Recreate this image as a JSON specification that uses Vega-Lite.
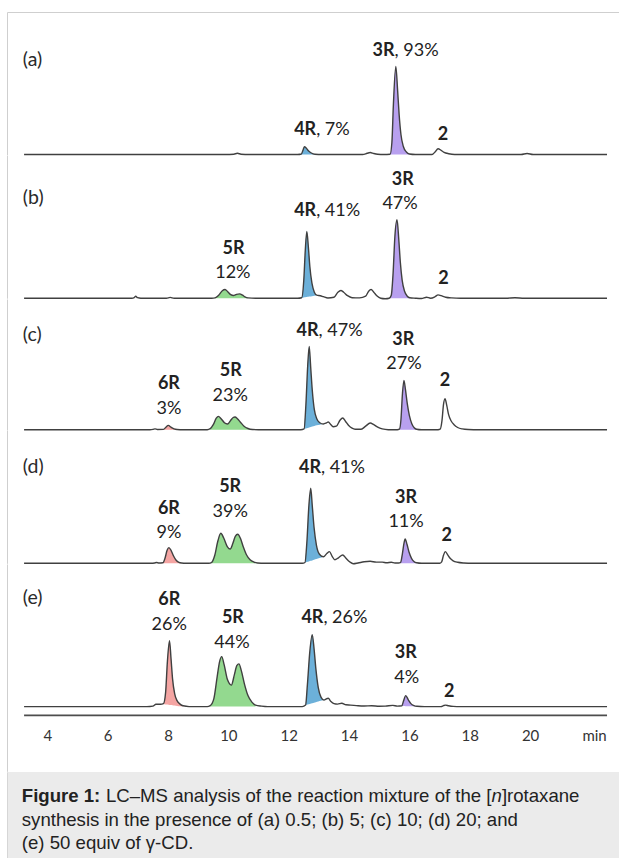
{
"$schema": "https://vega.github.io/schema/vega-lite/v6.json",
"padding": {"left": 7, "top": 12, "right": 0, "bottom": 0},
"background": "white",
"spacing": 0,
"bounds": "flush",
"config": {"view": {"stroke": null}, "axis": {"domainCap": "butt"}},
"resolve": {"scale": {"x": "independent", "y": "independent"}},
"datasets": {
"traces": [
{"panel":"a","t":3.23,"s":0},{"panel":"a","t":9.9,"s":0},{"panel":"a","t":10.18,"s":0.3},{"panel":"a","t":10.3,"s":1.2},{"panel":"a","t":10.42,"s":0.3},{"panel":"a","t":10.7,"s":0},{"panel":"a","t":12.3,"s":0},
{"panel":"a","t":12.42,"s":0.5,"peak":"4R","base":0},{"panel":"a","t":12.47,"s":4,"peak":"4R","base":0},{"panel":"a","t":12.52,"s":7.7,"peak":"4R","base":0},{"panel":"a","t":12.58,"s":6.5,"peak":"4R","base":0},{"panel":"a","t":12.66,"s":3.5,"peak":"4R","base":0},{"panel":"a","t":12.75,"s":1.5,"peak":"4R","base":0},{"panel":"a","t":12.87,"s":0.3,"peak":"4R","base":0},
{"panel":"a","t":13.1,"s":0},{"panel":"a","t":14.45,"s":0},{"panel":"a","t":14.6,"s":1.2},{"panel":"a","t":14.7,"s":2},{"panel":"a","t":14.82,"s":1},{"panel":"a","t":14.95,"s":0.3},{"panel":"a","t":15.15,"s":0},
{"panel":"a","t":15.36,"s":0.3,"peak":"3R","base":0},{"panel":"a","t":15.42,"s":12,"peak":"3R","base":0},{"panel":"a","t":15.47,"s":50,"peak":"3R","base":0},{"panel":"a","t":15.55,"s":88,"peak":"3R","base":0},{"panel":"a","t":15.61,"s":64,"peak":"3R","base":0},{"panel":"a","t":15.66,"s":40,"peak":"3R","base":0},{"panel":"a","t":15.72,"s":20,"peak":"3R","base":0},{"panel":"a","t":15.8,"s":8,"peak":"3R","base":0},{"panel":"a","t":15.9,"s":2.5,"peak":"3R","base":0},{"panel":"a","t":16.0,"s":0.5,"peak":"3R","base":0},
{"panel":"a","t":16.2,"s":0},{"panel":"a","t":16.75,"s":0},{"panel":"a","t":16.85,"s":2.5},{"panel":"a","t":16.95,"s":5.7},{"panel":"a","t":17.05,"s":4.2},{"panel":"a","t":17.15,"s":2.2},{"panel":"a","t":17.3,"s":0.8},{"panel":"a","t":17.5,"s":0},{"panel":"a","t":19.7,"s":0},{"panel":"a","t":19.9,"s":1},{"panel":"a","t":20.1,"s":0},{"panel":"a","t":22.55,"s":0},

{"panel":"b","t":3.23,"s":0},{"panel":"b","t":6.8,"s":0},{"panel":"b","t":6.88,"s":0.6},{"panel":"b","t":6.93,"s":2},{"panel":"b","t":6.99,"s":0.5},{"panel":"b","t":7.1,"s":0},{"panel":"b","t":7.95,"s":0},{"panel":"b","t":8.07,"s":0.8},{"panel":"b","t":8.2,"s":0},{"panel":"b","t":9.45,"s":0},
{"panel":"b","t":9.56,"s":0.3,"peak":"5R","base":0},{"panel":"b","t":9.68,"s":3,"peak":"5R","base":0},{"panel":"b","t":9.8,"s":7.5,"peak":"5R","base":0},{"panel":"b","t":9.89,"s":8.7,"peak":"5R","base":0},{"panel":"b","t":9.98,"s":6.5,"peak":"5R","base":0},{"panel":"b","t":10.08,"s":3.5,"peak":"5R","base":0},{"panel":"b","t":10.17,"s":2.7,"peak":"5R","base":0},{"panel":"b","t":10.27,"s":3.8,"peak":"5R","base":0},{"panel":"b","t":10.37,"s":4.3,"peak":"5R","base":0},{"panel":"b","t":10.47,"s":3,"peak":"5R","base":0},{"panel":"b","t":10.55,"s":1.3,"peak":"5R","base":0},{"panel":"b","t":10.65,"s":0.3,"peak":"5R","base":0},
{"panel":"b","t":10.9,"s":0},{"panel":"b","t":12.3,"s":0},
{"panel":"b","t":12.43,"s":0.5,"peak":"4R","base":0.5},{"panel":"b","t":12.5,"s":18,"peak":"4R","base":0.8},{"panel":"b","t":12.55,"s":48,"peak":"4R","base":1.0},{"panel":"b","t":12.6,"s":66.7,"peak":"4R","base":1.2},{"panel":"b","t":12.65,"s":52,"peak":"4R","base":1.4},{"panel":"b","t":12.7,"s":32,"peak":"4R","base":1.6},{"panel":"b","t":12.77,"s":15,"peak":"4R","base":2.0},{"panel":"b","t":12.85,"s":6,"peak":"4R","base":2.5},{"panel":"b","t":12.93,"s":3,"peak":"4R","base":3.0},
{"panel":"b","t":13.05,"s":2.5},{"panel":"b","t":13.15,"s":1.5},{"panel":"b","t":13.3,"s":0.2},{"panel":"b","t":13.5,"s":1},{"panel":"b","t":13.63,"s":6},{"panel":"b","t":13.73,"s":7.7},{"panel":"b","t":13.82,"s":6},{"panel":"b","t":13.95,"s":2.5},{"panel":"b","t":14.1,"s":0.5},{"panel":"b","t":14.35,"s":0.3},{"panel":"b","t":14.55,"s":2},{"panel":"b","t":14.65,"s":7},{"panel":"b","t":14.73,"s":8.7},{"panel":"b","t":14.82,"s":6},{"panel":"b","t":14.92,"s":2.5},{"panel":"b","t":15.05,"s":0},{"panel":"b","t":15.2,"s":-0.5},
{"panel":"b","t":15.33,"s":0,"peak":"3R","base":0},{"panel":"b","t":15.4,"s":3,"peak":"3R","base":0},{"panel":"b","t":15.46,"s":25,"peak":"3R","base":0},{"panel":"b","t":15.52,"s":62,"peak":"3R","base":0},{"panel":"b","t":15.59,"s":78.4,"peak":"3R","base":0},{"panel":"b","t":15.65,"s":58,"peak":"3R","base":0},{"panel":"b","t":15.7,"s":36,"peak":"3R","base":0},{"panel":"b","t":15.76,"s":18,"peak":"3R","base":0},{"panel":"b","t":15.84,"s":7,"peak":"3R","base":0},{"panel":"b","t":15.93,"s":2,"peak":"3R","base":0},{"panel":"b","t":16.01,"s":0.5,"peak":"3R","base":0},
{"panel":"b","t":16.2,"s":0},{"panel":"b","t":16.4,"s":-0.3},{"panel":"b","t":16.57,"s":1},{"panel":"b","t":16.7,"s":0},{"panel":"b","t":16.85,"s":1.5},{"panel":"b","t":16.95,"s":3.3},{"panel":"b","t":17.05,"s":2.5},{"panel":"b","t":17.2,"s":1},{"panel":"b","t":17.4,"s":0.3},{"panel":"b","t":17.7,"s":0},{"panel":"b","t":19.2,"s":0},{"panel":"b","t":19.5,"s":0.4},{"panel":"b","t":19.8,"s":0},{"panel":"b","t":22.55,"s":0},

{"panel":"c","t":3.23,"s":0},{"panel":"c","t":7.4,"s":0},{"panel":"c","t":7.5,"s":0.3},{"panel":"c","t":7.57,"s":0.8},{"panel":"c","t":7.65,"s":0.2},
{"panel":"c","t":7.85,"s":0.3,"peak":"6R","base":0},{"panel":"c","t":7.93,"s":2.5,"peak":"6R","base":0},{"panel":"c","t":8.01,"s":4.3,"peak":"6R","base":0},{"panel":"c","t":8.1,"s":2.5,"peak":"6R","base":0},{"panel":"c","t":8.2,"s":0.8,"peak":"6R","base":0},{"panel":"c","t":8.3,"s":0.2,"peak":"6R","base":0},
{"panel":"c","t":8.5,"s":0},{"panel":"c","t":9.3,"s":0},
{"panel":"c","t":9.4,"s":1,"peak":"5R","base":0},{"panel":"c","t":9.5,"s":5,"peak":"5R","base":0},{"panel":"c","t":9.6,"s":11.5,"peak":"5R","base":0},{"panel":"c","t":9.67,"s":13.3,"peak":"5R","base":0},{"panel":"c","t":9.76,"s":11,"peak":"5R","base":0},{"panel":"c","t":9.87,"s":7,"peak":"5R","base":0},{"panel":"c","t":9.97,"s":5.7,"peak":"5R","base":0},{"panel":"c","t":10.08,"s":9.5,"peak":"5R","base":0},{"panel":"c","t":10.16,"s":12.2,"peak":"5R","base":0},{"panel":"c","t":10.22,"s":12.7,"peak":"5R","base":0},{"panel":"c","t":10.3,"s":11,"peak":"5R","base":0},{"panel":"c","t":10.4,"s":7.5,"peak":"5R","base":0},{"panel":"c","t":10.52,"s":3.5,"peak":"5R","base":0},{"panel":"c","t":10.65,"s":1.2,"peak":"5R","base":0},{"panel":"c","t":10.8,"s":0.2,"peak":"5R","base":0},
{"panel":"c","t":11.0,"s":0},{"panel":"c","t":12.4,"s":0},
{"panel":"c","t":12.51,"s":0.8,"peak":"4R","base":0.8},{"panel":"c","t":12.57,"s":25,"peak":"4R","base":1.3},{"panel":"c","t":12.63,"s":64,"peak":"4R","base":1.8},{"panel":"c","t":12.68,"s":83.3,"peak":"4R","base":2.2},{"panel":"c","t":12.73,"s":62,"peak":"4R","base":2.7},{"panel":"c","t":12.78,"s":40,"peak":"4R","base":3.1},{"panel":"c","t":12.85,"s":20,"peak":"4R","base":3.7},{"panel":"c","t":12.93,"s":11,"peak":"4R","base":4.4},{"panel":"c","t":13.03,"s":7,"peak":"4R","base":5.0},{"panel":"c","t":13.15,"s":5.7,"peak":"4R","base":5.7},
{"panel":"c","t":13.25,"s":6.8},{"panel":"c","t":13.31,"s":7.7},{"panel":"c","t":13.4,"s":5},{"panel":"c","t":13.47,"s":3},{"panel":"c","t":13.58,"s":3.5},{"panel":"c","t":13.7,"s":9.5},{"panel":"c","t":13.79,"s":11.7},{"panel":"c","t":13.88,"s":8.5},{"panel":"c","t":13.98,"s":4.5},{"panel":"c","t":14.1,"s":1.5},{"panel":"c","t":14.2,"s":0.5},{"panel":"c","t":14.4,"s":0.5},{"panel":"c","t":14.55,"s":3.5},{"panel":"c","t":14.7,"s":6.7},{"panel":"c","t":14.82,"s":5},{"panel":"c","t":14.95,"s":2.5},{"panel":"c","t":15.1,"s":0.8},{"panel":"c","t":15.3,"s":0},{"panel":"c","t":15.6,"s":0},
{"panel":"c","t":15.67,"s":0.5,"peak":"3R","base":0},{"panel":"c","t":15.72,"s":10,"peak":"3R","base":0},{"panel":"c","t":15.77,"s":36,"peak":"3R","base":0},{"panel":"c","t":15.82,"s":49.3,"peak":"3R","base":0},{"panel":"c","t":15.87,"s":40,"peak":"3R","base":0},{"panel":"c","t":15.93,"s":26,"peak":"3R","base":0},{"panel":"c","t":16.0,"s":14,"peak":"3R","base":0},{"panel":"c","t":16.08,"s":6,"peak":"3R","base":0},{"panel":"c","t":16.16,"s":2,"peak":"3R","base":0},{"panel":"c","t":16.24,"s":0.5,"peak":"3R","base":0},
{"panel":"c","t":16.4,"s":0},{"panel":"c","t":16.95,"s":0},{"panel":"c","t":17.02,"s":0.5},{"panel":"c","t":17.08,"s":9},{"panel":"c","t":17.13,"s":25},{"panel":"c","t":17.18,"s":31},{"panel":"c","t":17.24,"s":24},{"panel":"c","t":17.3,"s":15},{"panel":"c","t":17.38,"s":9},{"panel":"c","t":17.48,"s":5},{"panel":"c","t":17.6,"s":2.2},{"panel":"c","t":17.75,"s":0.8},{"panel":"c","t":17.95,"s":0.2},{"panel":"c","t":18.3,"s":0},{"panel":"c","t":22.55,"s":0},

{"panel":"d","t":3.23,"s":0},{"panel":"d","t":7.45,"s":0},{"panel":"d","t":7.55,"s":0.3},{"panel":"d","t":7.62,"s":0.8},{"panel":"d","t":7.7,"s":0.3},
{"panel":"d","t":7.83,"s":0.5,"peak":"6R","base":0},{"panel":"d","t":7.9,"s":5,"peak":"6R","base":0},{"panel":"d","t":7.97,"s":13,"peak":"6R","base":0},{"panel":"d","t":8.03,"s":15.7,"peak":"6R","base":0},{"panel":"d","t":8.1,"s":13,"peak":"6R","base":0},{"panel":"d","t":8.18,"s":7.5,"peak":"6R","base":0},{"panel":"d","t":8.27,"s":3,"peak":"6R","base":0},{"panel":"d","t":8.36,"s":1,"peak":"6R","base":0},{"panel":"d","t":8.45,"s":0.3,"peak":"6R","base":0},
{"panel":"d","t":8.6,"s":0},{"panel":"d","t":9.35,"s":0},
{"panel":"d","t":9.45,"s":1,"peak":"5R","base":0},{"panel":"d","t":9.55,"s":8,"peak":"5R","base":0},{"panel":"d","t":9.65,"s":22,"peak":"5R","base":0},{"panel":"d","t":9.75,"s":30,"peak":"5R","base":0},{"panel":"d","t":9.85,"s":25,"peak":"5R","base":0},{"panel":"d","t":9.97,"s":16.5,"peak":"5R","base":0},{"panel":"d","t":10.06,"s":14.3,"peak":"5R","base":0},{"panel":"d","t":10.15,"s":20,"peak":"5R","base":0},{"panel":"d","t":10.23,"s":27,"peak":"5R","base":0},{"panel":"d","t":10.31,"s":29,"peak":"5R","base":0},{"panel":"d","t":10.4,"s":25,"peak":"5R","base":0},{"panel":"d","t":10.5,"s":16,"peak":"5R","base":0},{"panel":"d","t":10.6,"s":8.5,"peak":"5R","base":0},{"panel":"d","t":10.72,"s":3.5,"peak":"5R","base":0},{"panel":"d","t":10.85,"s":1.2,"peak":"5R","base":0},{"panel":"d","t":10.97,"s":0.3,"peak":"5R","base":0},
{"panel":"d","t":11.2,"s":0},{"panel":"d","t":12.45,"s":0},
{"panel":"d","t":12.54,"s":0.8,"peak":"4R","base":0.8},{"panel":"d","t":12.6,"s":20,"peak":"4R","base":1.3},{"panel":"d","t":12.67,"s":58,"peak":"4R","base":1.9},{"panel":"d","t":12.73,"s":75,"peak":"4R","base":2.5},{"panel":"d","t":12.78,"s":58,"peak":"4R","base":2.9},{"panel":"d","t":12.84,"s":36,"peak":"4R","base":3.5},{"panel":"d","t":12.92,"s":18,"peak":"4R","base":4.2},{"panel":"d","t":13.02,"s":9,"peak":"4R","base":5.2},{"panel":"d","t":13.15,"s":6.5,"peak":"4R","base":6.5},
{"panel":"d","t":13.27,"s":10},{"panel":"d","t":13.35,"s":11.7},{"panel":"d","t":13.44,"s":7},{"panel":"d","t":13.53,"s":3.5},{"panel":"d","t":13.65,"s":5.5},{"panel":"d","t":13.79,"s":8.3},{"panel":"d","t":13.9,"s":5},{"panel":"d","t":14.02,"s":1.5},{"panel":"d","t":14.14,"s":-0.5},{"panel":"d","t":14.3,"s":0.3},{"panel":"d","t":14.5,"s":1.5},{"panel":"d","t":14.7,"s":2},{"panel":"d","t":14.9,"s":1.2},{"panel":"d","t":15.1,"s":1.2},{"panel":"d","t":15.25,"s":0.5},{"panel":"d","t":15.4,"s":1},{"panel":"d","t":15.52,"s":0.3},{"panel":"d","t":15.64,"s":0.3},
{"panel":"d","t":15.71,"s":1,"peak":"3R","base":0},{"panel":"d","t":15.77,"s":10,"peak":"3R","base":0},{"panel":"d","t":15.82,"s":20,"peak":"3R","base":0},{"panel":"d","t":15.86,"s":24.3,"peak":"3R","base":0},{"panel":"d","t":15.92,"s":19,"peak":"3R","base":0},{"panel":"d","t":15.99,"s":11,"peak":"3R","base":0},{"panel":"d","t":16.07,"s":5,"peak":"3R","base":0},{"panel":"d","t":16.15,"s":1.8,"peak":"3R","base":0},{"panel":"d","t":16.24,"s":0.5,"peak":"3R","base":0},
{"panel":"d","t":16.4,"s":0},{"panel":"d","t":17.0,"s":0},{"panel":"d","t":17.07,"s":1.5},{"panel":"d","t":17.13,"s":8},{"panel":"d","t":17.19,"s":11.7},{"panel":"d","t":17.26,"s":9},{"panel":"d","t":17.35,"s":5},{"panel":"d","t":17.45,"s":2.5},{"panel":"d","t":17.6,"s":1},{"panel":"d","t":17.8,"s":0.3},{"panel":"d","t":18.1,"s":0},{"panel":"d","t":22.55,"s":0},

{"panel":"e","t":3.23,"s":0},{"panel":"e","t":7.3,"s":0},{"panel":"e","t":7.5,"s":0.5},{"panel":"e","t":7.6,"s":2.3},{"panel":"e","t":7.75,"s":2.3},
{"panel":"e","t":7.85,"s":3,"peak":"6R","base":2.5},{"panel":"e","t":7.92,"s":14,"peak":"6R","base":2.2},{"panel":"e","t":7.98,"s":45,"peak":"6R","base":2},{"panel":"e","t":8.05,"s":66,"peak":"6R","base":1.7},{"panel":"e","t":8.1,"s":48,"peak":"6R","base":1.5},{"panel":"e","t":8.15,"s":28,"peak":"6R","base":1.3},{"panel":"e","t":8.22,"s":13,"peak":"6R","base":1.0},{"panel":"e","t":8.3,"s":6,"peak":"6R","base":0.7},{"panel":"e","t":8.4,"s":2.5,"peak":"6R","base":0.4},{"panel":"e","t":8.5,"s":0.8,"peak":"6R","base":0.2},
{"panel":"e","t":8.7,"s":0},{"panel":"e","t":9.3,"s":0},
{"panel":"e","t":9.4,"s":1,"peak":"5R","base":0},{"panel":"e","t":9.52,"s":8,"peak":"5R","base":0},{"panel":"e","t":9.63,"s":30,"peak":"5R","base":0},{"panel":"e","t":9.71,"s":45,"peak":"5R","base":0},{"panel":"e","t":9.78,"s":50,"peak":"5R","base":0},{"panel":"e","t":9.86,"s":42,"peak":"5R","base":0},{"panel":"e","t":9.97,"s":27,"peak":"5R","base":0},{"panel":"e","t":10.1,"s":21.5,"peak":"5R","base":0},{"panel":"e","t":10.2,"s":32,"peak":"5R","base":0},{"panel":"e","t":10.28,"s":41,"peak":"5R","base":0},{"panel":"e","t":10.35,"s":42.7,"peak":"5R","base":0},{"panel":"e","t":10.43,"s":36,"peak":"5R","base":0},{"panel":"e","t":10.53,"s":23,"peak":"5R","base":0},{"panel":"e","t":10.65,"s":11,"peak":"5R","base":0},{"panel":"e","t":10.78,"s":4.5,"peak":"5R","base":0},{"panel":"e","t":10.9,"s":1.5,"peak":"5R","base":0},
{"panel":"e","t":11.1,"s":0.5},{"panel":"e","t":11.3,"s":0},{"panel":"e","t":12.45,"s":0},
{"panel":"e","t":12.56,"s":1.5,"peak":"4R","base":1.5},{"panel":"e","t":12.62,"s":22,"peak":"4R","base":2},{"panel":"e","t":12.7,"s":55,"peak":"4R","base":2.7},{"panel":"e","t":12.78,"s":72,"peak":"4R","base":3.4},{"panel":"e","t":12.84,"s":58,"peak":"4R","base":3.9},{"panel":"e","t":12.9,"s":38,"peak":"4R","base":4.4},{"panel":"e","t":12.98,"s":19,"peak":"4R","base":5.1},{"panel":"e","t":13.07,"s":9.5,"peak":"4R","base":5.8},{"panel":"e","t":13.17,"s":6.5,"peak":"4R","base":6.5},
{"panel":"e","t":13.25,"s":7.8},{"panel":"e","t":13.31,"s":8.3},{"panel":"e","t":13.4,"s":5},{"panel":"e","t":13.5,"s":3},{"panel":"e","t":13.62,"s":2.5},{"panel":"e","t":13.76,"s":3.3},{"panel":"e","t":13.9,"s":1.8},{"panel":"e","t":14.05,"s":1.5},{"panel":"e","t":14.3,"s":0.8},{"panel":"e","t":14.5,"s":0.6},{"panel":"e","t":14.75,"s":0.8},{"panel":"e","t":15.0,"s":0.4},{"panel":"e","t":15.2,"s":0.5},{"panel":"e","t":15.45,"s":1.2},{"panel":"e","t":15.6,"s":0.5},
{"panel":"e","t":15.75,"s":0.8,"peak":"3R","base":0.5},{"panel":"e","t":15.8,"s":5,"peak":"3R","base":0.5},{"panel":"e","t":15.88,"s":11,"peak":"3R","base":0.4},{"panel":"e","t":15.96,"s":7,"peak":"3R","base":0.4},{"panel":"e","t":16.05,"s":3,"peak":"3R","base":0.3},{"panel":"e","t":16.15,"s":1,"peak":"3R","base":0.3},{"panel":"e","t":16.25,"s":0.3,"peak":"3R","base":0.3},
{"panel":"e","t":16.5,"s":0},{"panel":"e","t":17.05,"s":0},{"panel":"e","t":17.13,"s":1},{"panel":"e","t":17.2,"s":1.5},{"panel":"e","t":17.3,"s":0.8},{"panel":"e","t":17.45,"s":0.2},{"panel":"e","t":17.7,"s":0},{"panel":"e","t":22.55,"s":0}
],
"axisline": [{"t":3.23,"t_end":22.55,"s":-8.8}],
"labels": [
{"panel":"a","role":"panel","t":3.19,"s":94.5,"text":"(a)"},
{"panel":"a","role":"name_in","t":15.51,"s":103.3,"text":"3R"},{"panel":"a","role":"yield_in","t":15.51,"s":103.3,"text":", 93%"},
{"panel":"a","role":"name_in","t":12.91,"s":24.3,"text":"4R"},{"panel":"a","role":"yield_in","t":12.91,"s":24.3,"text":", 7%"},
{"panel":"a","role":"name","t":17.11,"s":19.3,"text":"2"},
{"panel":"b","role":"panel","t":3.19,"s":100,"text":"(b)"},
{"panel":"b","role":"name","t":15.78,"s":118,"text":"3R"},{"panel":"b","role":"yield","t":15.69,"s":94.7,"text":"47%"},
{"panel":"b","role":"name_in","t":12.91,"s":87,"text":"4R"},{"panel":"b","role":"yield_in","t":12.91,"s":87,"text":", 41%"},
{"panel":"b","role":"name","t":10.17,"s":49,"text":"5R"},{"panel":"b","role":"yield","t":10.15,"s":25.7,"text":"12%"},
{"panel":"b","role":"name","t":17.13,"s":19.7,"text":"2"},
{"panel":"c","role":"panel","t":3.19,"s":94.5,"text":"(c)"},
{"panel":"c","role":"name","t":8.03,"s":45.8,"text":"6R"},{"panel":"c","role":"yield","t":8.03,"s":20.8,"text":"3%"},
{"panel":"c","role":"name","t":10.08,"s":58.5,"text":"5R"},{"panel":"c","role":"yield","t":10.06,"s":34.2,"text":"23%"},
{"panel":"c","role":"name_in","t":12.99,"s":98.5,"text":"4R"},{"panel":"c","role":"yield_in","t":12.99,"s":98.5,"text":", 47%"},
{"panel":"c","role":"name","t":15.8,"s":90.2,"text":"3R"},{"panel":"c","role":"yield","t":15.82,"s":65.8,"text":"27%"},
{"panel":"c","role":"name","t":17.18,"s":48.5,"text":"2"},
{"panel":"d","role":"panel","t":3.19,"s":96.4,"text":"(d)"},
{"panel":"d","role":"name","t":8.03,"s":54.4,"text":"6R"},{"panel":"d","role":"yield","t":8.03,"s":30,"text":"9%"},
{"panel":"d","role":"name","t":10.06,"s":76.7,"text":"5R"},{"panel":"d","role":"yield","t":10.06,"s":51.7,"text":"39%"},
{"panel":"d","role":"name_in","t":13.07,"s":95,"text":"4R"},{"panel":"d","role":"yield_in","t":13.07,"s":95,"text":", 41%"},
{"panel":"d","role":"name","t":15.89,"s":65,"text":"3R"},{"panel":"d","role":"yield","t":15.89,"s":41,"text":"11%"},
{"panel":"d","role":"name","t":17.24,"s":27.7,"text":"2"},
{"panel":"e","role":"panel","t":3.19,"s":108.8,"text":"(e)"},
{"panel":"e","role":"name","t":8.04,"s":106.6,"text":"6R"},{"panel":"e","role":"yield","t":8.04,"s":81.6,"text":"26%"},
{"panel":"e","role":"name","t":10.15,"s":88.3,"text":"5R"},{"panel":"e","role":"yield","t":10.12,"s":63.3,"text":"44%"},
{"panel":"e","role":"name_in","t":13.15,"s":88.3,"text":"4R"},{"panel":"e","role":"yield_in","t":13.15,"s":88.3,"text":", 26%"},
{"panel":"e","role":"name","t":15.88,"s":53.6,"text":"3R"},{"panel":"e","role":"yield","t":15.91,"s":28.6,"text":"4%"},
{"panel":"e","role":"name","t":17.32,"s":14.3,"text":"2"}
],
"caption": [
{"line":1,"part":"label","text":"Figure 1:"},
{"line":1,"part":"body1","text":"LC–MS analysis of the reaction mixture of the ["},
{"line":1,"part":"italic","text":"n"},
{"line":1,"part":"body2","text":"]rotaxane"},
{"line":2,"part":"body","text":"synthesis in the presence of (a) 0.5; (b) 5; (c) 10; (d) 20; and"},
{"line":3,"part":"body","text":"(e) 50 equiv of γ-CD."}
]
},
"vconcat": [
{
"width": 613, "height": 142.5,
"encoding": {
 "x": {"field":"t","type":"quantitative","scale":{"domain":[2.664,22.98],"nice":false,"zero":false},"axis":{"orient":"top","title":null,"labels":false,"ticks":false,"grid":false,"domain":true,"domainColor":"#cfcfcf","domainWidth":1}},
 "y": {"field":"s","type":"quantitative","scale":{"domain":[0,142.5],"nice":false,"zero":false},"axis":{"title":null,"labels":false,"ticks":false,"grid":false,"domain":true,"domainColor":"#cfcfcf","domainWidth":1}}
},
"layer": [
{"data":{"name":"traces"},"transform":[{"filter":"datum.panel === 'a' && isValid(datum.peak)"}],
 "mark":{"type":"area","interpolate":"monotone","opacity":1},
 "encoding":{"y2":{"field":"base"},"color":{"field":"peak","type":"nominal","scale":{"domain":["6R","5R","4R","3R"],"range":["#f4a5a3","#93d98f","#6cb0d9","#b8a0ef"]},"legend":null}}},
{"data":{"name":"traces"},"transform":[{"filter":"datum.panel === 'a'"}],
 "mark":{"type":"line","interpolate":"monotone","color":"#404040","strokeWidth":1.4},"encoding":{}},
{"data":{"name":"labels"},"transform":[{"filter":"datum.panel === 'a' && datum.role === 'panel'"}],
 "mark":{"type":"text","align":"left","baseline":"middle","font":"Lato","fontSize":19.5,"color":"#2a2a2a"},"encoding":{"text":{"field":"text"}}},
{"data":{"name":"labels"},"transform":[{"filter":"datum.panel === 'a' && datum.role === 'yield_in'"}],
 "mark":{"type":"text","align":"left","baseline":"middle","font":"Lato","fontSize":18,"color":"#222222"},"encoding":{"text":{"field":"text"}}},
{"data":{"name":"labels"},"transform":[{"filter":"datum.panel === 'a' && datum.role === 'name_in'"}],
 "mark":{"type":"text","align":"right","baseline":"middle","font":"Lato","fontSize":18,"fontWeight":"bold","color":"#222222"},"encoding":{"text":{"field":"text"}}},
{"data":{"name":"labels"},"transform":[{"filter":"datum.panel === 'a' && datum.role === 'name'"}],
 "mark":{"type":"text","align":"center","baseline":"middle","font":"Lato","fontSize":18,"fontWeight":"bold","color":"#222222"},"encoding":{"text":{"field":"text"}}}
]
},
{
"width": 613, "height": 143.2,
"encoding": {
 "x": {"field":"t","type":"quantitative","scale":{"domain":[2.664,22.98],"nice":false,"zero":false},"axis":null},
 "y": {"field":"s","type":"quantitative","scale":{"domain":[0,143.2],"nice":false,"zero":false},"axis":{"title":null,"labels":false,"ticks":false,"grid":false,"domain":true,"domainColor":"#cfcfcf","domainWidth":1}}
},
"layer": [
{"data":{"name":"traces"},"transform":[{"filter":"datum.panel === 'b' && isValid(datum.peak)"}],
 "mark":{"type":"area","interpolate":"monotone","opacity":1},
 "encoding":{"y2":{"field":"base"},"color":{"field":"peak","type":"nominal","scale":{"domain":["6R","5R","4R","3R"],"range":["#f4a5a3","#93d98f","#6cb0d9","#b8a0ef"]},"legend":null}}},
{"data":{"name":"traces"},"transform":[{"filter":"datum.panel === 'b'"}],
 "mark":{"type":"line","interpolate":"monotone","color":"#404040","strokeWidth":1.4},"encoding":{}},
{"data":{"name":"labels"},"transform":[{"filter":"datum.panel === 'b' && datum.role === 'panel'"}],
 "mark":{"type":"text","align":"left","baseline":"middle","font":"Lato","fontSize":19.5,"color":"#2a2a2a"},"encoding":{"text":{"field":"text"}}},
{"data":{"name":"labels"},"transform":[{"filter":"datum.panel === 'b' && datum.role === 'yield_in'"}],
 "mark":{"type":"text","align":"left","baseline":"middle","font":"Lato","fontSize":18,"color":"#222222"},"encoding":{"text":{"field":"text"}}},
{"data":{"name":"labels"},"transform":[{"filter":"datum.panel === 'b' && datum.role === 'name_in'"}],
 "mark":{"type":"text","align":"right","baseline":"middle","font":"Lato","fontSize":18,"fontWeight":"bold","color":"#222222"},"encoding":{"text":{"field":"text"}}},
{"data":{"name":"labels"},"transform":[{"filter":"datum.panel === 'b' && datum.role === 'name'"}],
 "mark":{"type":"text","align":"center","baseline":"middle","font":"Lato","fontSize":18,"fontWeight":"bold","color":"#222222"},"encoding":{"text":{"field":"text"}}},
{"data":{"name":"labels"},"transform":[{"filter":"datum.panel === 'b' && datum.role === 'yield'"}],
 "mark":{"type":"text","align":"center","baseline":"middle","font":"Lato","fontSize":18,"color":"#222222"},"encoding":{"text":{"field":"text"}}}
]
},
{
"width": 613, "height": 130.7,
"encoding": {
 "x": {"field":"t","type":"quantitative","scale":{"domain":[2.664,22.98],"nice":false,"zero":false},"axis":null},
 "y": {"field":"s","type":"quantitative","scale":{"domain":[0,130.7],"nice":false,"zero":false},"axis":{"title":null,"labels":false,"ticks":false,"grid":false,"domain":true,"domainColor":"#cfcfcf","domainWidth":1}}
},
"layer": [
{"data":{"name":"traces"},"transform":[{"filter":"datum.panel === 'c' && isValid(datum.peak)"}],
 "mark":{"type":"area","interpolate":"monotone","opacity":1},
 "encoding":{"y2":{"field":"base"},"color":{"field":"peak","type":"nominal","scale":{"domain":["6R","5R","4R","3R"],"range":["#f4a5a3","#93d98f","#6cb0d9","#b8a0ef"]},"legend":null}}},
{"data":{"name":"traces"},"transform":[{"filter":"datum.panel === 'c'"}],
 "mark":{"type":"line","interpolate":"monotone","color":"#404040","strokeWidth":1.4},"encoding":{}},
{"data":{"name":"labels"},"transform":[{"filter":"datum.panel === 'c' && datum.role === 'panel'"}],
 "mark":{"type":"text","align":"left","baseline":"middle","font":"Lato","fontSize":19.5,"color":"#2a2a2a"},"encoding":{"text":{"field":"text"}}},
{"data":{"name":"labels"},"transform":[{"filter":"datum.panel === 'c' && datum.role === 'yield_in'"}],
 "mark":{"type":"text","align":"left","baseline":"middle","font":"Lato","fontSize":18,"color":"#222222"},"encoding":{"text":{"field":"text"}}},
{"data":{"name":"labels"},"transform":[{"filter":"datum.panel === 'c' && datum.role === 'name_in'"}],
 "mark":{"type":"text","align":"right","baseline":"middle","font":"Lato","fontSize":18,"fontWeight":"bold","color":"#222222"},"encoding":{"text":{"field":"text"}}},
{"data":{"name":"labels"},"transform":[{"filter":"datum.panel === 'c' && datum.role === 'name'"}],
 "mark":{"type":"text","align":"center","baseline":"middle","font":"Lato","fontSize":18,"fontWeight":"bold","color":"#222222"},"encoding":{"text":{"field":"text"}}},
{"data":{"name":"labels"},"transform":[{"filter":"datum.panel === 'c' && datum.role === 'yield'"}],
 "mark":{"type":"text","align":"center","baseline":"middle","font":"Lato","fontSize":18,"color":"#222222"},"encoding":{"text":{"field":"text"}}}
]
},
{
"width": 613, "height": 133.3,
"encoding": {
 "x": {"field":"t","type":"quantitative","scale":{"domain":[2.664,22.98],"nice":false,"zero":false},"axis":null},
 "y": {"field":"s","type":"quantitative","scale":{"domain":[0,133.3],"nice":false,"zero":false},"axis":{"title":null,"labels":false,"ticks":false,"grid":false,"domain":true,"domainColor":"#cfcfcf","domainWidth":1}}
},
"layer": [
{"data":{"name":"traces"},"transform":[{"filter":"datum.panel === 'd' && isValid(datum.peak)"}],
 "mark":{"type":"area","interpolate":"monotone","opacity":1},
 "encoding":{"y2":{"field":"base"},"color":{"field":"peak","type":"nominal","scale":{"domain":["6R","5R","4R","3R"],"range":["#f4a5a3","#93d98f","#6cb0d9","#b8a0ef"]},"legend":null}}},
{"data":{"name":"traces"},"transform":[{"filter":"datum.panel === 'd'"}],
 "mark":{"type":"line","interpolate":"monotone","color":"#404040","strokeWidth":1.4},"encoding":{}},
{"data":{"name":"labels"},"transform":[{"filter":"datum.panel === 'd' && datum.role === 'panel'"}],
 "mark":{"type":"text","align":"left","baseline":"middle","font":"Lato","fontSize":19.5,"color":"#2a2a2a"},"encoding":{"text":{"field":"text"}}},
{"data":{"name":"labels"},"transform":[{"filter":"datum.panel === 'd' && datum.role === 'yield_in'"}],
 "mark":{"type":"text","align":"left","baseline":"middle","font":"Lato","fontSize":18,"color":"#222222"},"encoding":{"text":{"field":"text"}}},
{"data":{"name":"labels"},"transform":[{"filter":"datum.panel === 'd' && datum.role === 'name_in'"}],
 "mark":{"type":"text","align":"right","baseline":"middle","font":"Lato","fontSize":18,"fontWeight":"bold","color":"#222222"},"encoding":{"text":{"field":"text"}}},
{"data":{"name":"labels"},"transform":[{"filter":"datum.panel === 'd' && datum.role === 'name'"}],
 "mark":{"type":"text","align":"center","baseline":"middle","font":"Lato","fontSize":18,"fontWeight":"bold","color":"#222222"},"encoding":{"text":{"field":"text"}}},
{"data":{"name":"labels"},"transform":[{"filter":"datum.panel === 'd' && datum.role === 'yield'"}],
 "mark":{"type":"text","align":"center","baseline":"middle","font":"Lato","fontSize":18,"color":"#222222"},"encoding":{"text":{"field":"text"}}}
]
},
{
"width": 613, "height": 207.3,
"encoding": {
 "x": {"field":"t","type":"quantitative","scale":{"domain":[2.664,22.98],"nice":false,"zero":false},"axis":{"orient":"bottom","offset":-55.7,"title":null,"domain":false,"ticks":false,"tickSize":0,"grid":false,"values":[4,6,8,10,12,14,16,18,20,22.12],"labelExpr":"datum.value > 21 ? 'min' : datum.label","labelFont":"Lato","labelFontSize":15,"labelColor":"#333333","labelPadding":13,"labelOverlap":false,"labelFlush":false}},
 "y": {"field":"s","type":"quantitative","scale":{"domain":[-64.7,142.6],"nice":false,"zero":false},"axis":{"title":null,"labels":false,"ticks":false,"grid":false,"domain":true,"domainColor":"#cfcfcf","domainWidth":1}}
},
"layer": [
{"data":{"name":"traces"},"transform":[{"filter":"datum.panel === 'e' && isValid(datum.peak)"}],
 "mark":{"type":"area","interpolate":"monotone","opacity":1},
 "encoding":{"y2":{"field":"base"},"color":{"field":"peak","type":"nominal","scale":{"domain":["6R","5R","4R","3R"],"range":["#f4a5a3","#93d98f","#6cb0d9","#b8a0ef"]},"legend":null}}},
{"data":{"name":"traces"},"transform":[{"filter":"datum.panel === 'e'"}],
 "mark":{"type":"line","interpolate":"monotone","color":"#404040","strokeWidth":1.4},"encoding":{}},
{"data":{"name":"axisline"},
 "mark":{"type":"rule","color":"#4d4d4d","strokeWidth":1.8},
 "encoding":{"x2":{"field":"t_end"}}},
{"data":{"name":"labels"},"transform":[{"filter":"datum.panel === 'e' && datum.role === 'panel'"}],
 "mark":{"type":"text","align":"left","baseline":"middle","font":"Lato","fontSize":19.5,"color":"#2a2a2a"},"encoding":{"text":{"field":"text"}}},
{"data":{"name":"labels"},"transform":[{"filter":"datum.panel === 'e' && datum.role === 'yield_in'"}],
 "mark":{"type":"text","align":"left","baseline":"middle","font":"Lato","fontSize":18,"color":"#222222"},"encoding":{"text":{"field":"text"}}},
{"data":{"name":"labels"},"transform":[{"filter":"datum.panel === 'e' && datum.role === 'name_in'"}],
 "mark":{"type":"text","align":"right","baseline":"middle","font":"Lato","fontSize":18,"fontWeight":"bold","color":"#222222"},"encoding":{"text":{"field":"text"}}},
{"data":{"name":"labels"},"transform":[{"filter":"datum.panel === 'e' && datum.role === 'name'"}],
 "mark":{"type":"text","align":"center","baseline":"middle","font":"Lato","fontSize":18,"fontWeight":"bold","color":"#222222"},"encoding":{"text":{"field":"text"}}},
{"data":{"name":"labels"},"transform":[{"filter":"datum.panel === 'e' && datum.role === 'yield'"}],
 "mark":{"type":"text","align":"center","baseline":"middle","font":"Lato","fontSize":18,"color":"#222222"},"encoding":{"text":{"field":"text"}}}
]
},
{
"width": 612, "height": 89,
"view": {"fill": "#ebebeb", "stroke": null},
"data": {"name": "caption"},
"encoding": {
 "x": {"datum":0,"type":"quantitative","scale":{"domain":[0,1]},"axis":null},
 "y": {"field":"line","type":"quantitative","scale":{"domain":[-0.289,3.498],"reverse":true,"nice":false,"zero":false},"axis":{"title":null,"labels":false,"ticks":false,"grid":false,"domain":true,"domainColor":"#d6d6d6","domainWidth":1}},
 "text": {"field":"text"}
},
"layer": [
{"transform":[{"filter":"datum.part === 'label'"}],
 "mark":{"type":"text","align":"left","baseline":"alphabetic","font":"Liberation Sans","fontSize":18.6,"fontWeight":"bold","color":"#222222","dx":14.8}},
{"transform":[{"filter":"datum.part === 'body1'"}],
 "mark":{"type":"text","align":"left","baseline":"alphabetic","font":"Liberation Sans","fontSize":18.6,"color":"#222222","dx":99}},
{"transform":[{"filter":"datum.part === 'italic'"}],
 "mark":{"type":"text","align":"left","baseline":"alphabetic","font":"Liberation Sans","fontSize":18.6,"fontStyle":"italic","color":"#222222","dx":484.6}},
{"transform":[{"filter":"datum.part === 'body2'"}],
 "mark":{"type":"text","align":"left","baseline":"alphabetic","font":"Liberation Sans","fontSize":18.6,"color":"#222222","dx":494.9}},
{"transform":[{"filter":"datum.part === 'body'"}],
 "mark":{"type":"text","align":"left","baseline":"alphabetic","font":"Liberation Sans","fontSize":18.6,"color":"#222222","dx":14.8}}
]
}
]
}
